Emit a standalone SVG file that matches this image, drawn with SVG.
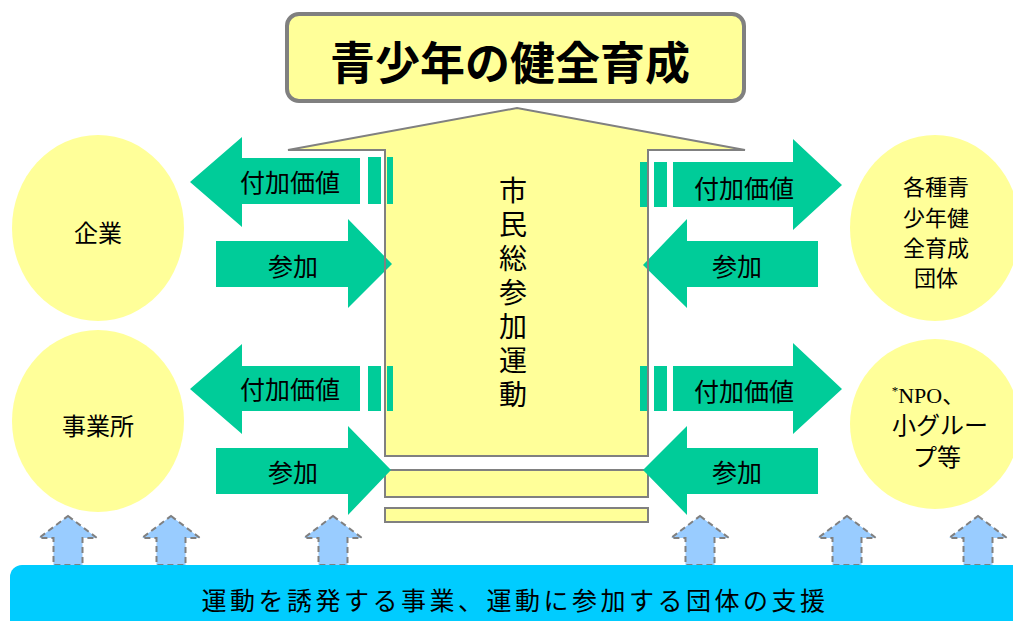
<svg xmlns="http://www.w3.org/2000/svg" width="1013" height="621" viewBox="0 0 1013 621">
<defs>
<style>
.jp{font-family:"Noto Sans CJK JP","Noto Sans CJK SC",sans-serif;fill:#000}
.circ{fill:#FFFF99}
.green{fill:#00CC99}
.yel{fill:#FFFF99;stroke:#808080;stroke-width:2}
.up{fill:#99CCFF;stroke:#808080;stroke-width:2;stroke-dasharray:6,4}
.lbl{font-size:25px;text-anchor:middle}
.node{font-size:24px;text-anchor:middle}
</style>
</defs>
<rect width="1013" height="621" fill="#fff"/>

<g id="title">
<rect x="287" y="14" width="457" height="87" rx="12" fill="#FFFF99" stroke="#808080" stroke-width="4"/>
<text class="jp" x="510" y="80" font-size="45" font-weight="bold" text-anchor="middle">青少年の健全育成</text>
</g>

<g id="main-arrow">
<polygon class="yel" points="288,150 517,108 745,150 648,150 648,456 385,456 385,150"/>
<rect class="yel" x="385" y="470" width="263" height="27"/>
<rect class="yel" x="385" y="508" width="263" height="14"/>
<text class="jp" x="513" y="176" font-size="28" writing-mode="vertical-rl" letter-spacing="6">市民総参加運動</text>
</g>

<g id="connectors">
<g id="ul">
<path class="green" d="M190,182 L242,137 L242,158 L360,158 L360,204 L242,204 L242,227 Z"/>
<rect class="green" x="368" y="157" width="13" height="47"/>
<rect class="green" x="387" y="157" width="6" height="47"/>
<text class="jp lbl" x="290" y="192">付加価値</text>
<path class="green" d="M216,241 L348,241 L348,219 L392,264 L348,308 L348,287 L216,287 Z"/>
<text class="jp lbl" x="293" y="276">参加</text>
</g>
<g id="ur">
<path class="green" d="M673,162 L793,162 L793,139 L842,185 L793,230 L793,207 L673,207 Z"/>
<rect class="green" x="640" y="162" width="8" height="45"/>
<rect class="green" x="654" y="162" width="13" height="45"/>
<text class="jp lbl" x="744" y="198">付加価値</text>
<path class="green" d="M643,265 L687,219 L687,241 L818,241 L818,287 L687,287 L687,308 Z"/>
<text class="jp lbl" x="737" y="276">参加</text>
</g>
<g id="ll">
<path class="green" d="M190,389 L242,344 L242,366 L360,366 L360,411 L242,411 L242,434 Z"/>
<rect class="green" x="368" y="366" width="13" height="45"/>
<rect class="green" x="387" y="366" width="6" height="45"/>
<text class="jp lbl" x="290" y="399">付加価値</text>
<path class="green" d="M216,448 L348,448 L348,426 L391,470 L348,515 L348,494 L216,494 Z"/>
<text class="jp lbl" x="293" y="482">参加</text>
</g>
<g id="lr">
<path class="green" d="M673,366 L793,366 L793,343 L842,389 L793,434 L793,411 L673,411 Z"/>
<rect class="green" x="640" y="366" width="8" height="45"/>
<rect class="green" x="654" y="366" width="13" height="45"/>
<text class="jp lbl" x="744" y="401">付加価値</text>
<path class="green" d="M643,470 L687,426 L687,448 L818,448 L818,494 L687,494 L687,515 Z"/>
<text class="jp lbl" x="737" y="482">参加</text>
</g>
<line x1="385" y1="150" x2="385" y2="456" stroke="#808080" stroke-width="2"/>
<line x1="648" y1="150" x2="648" y2="456" stroke="#808080" stroke-width="2"/>
<g id="up-arrows">
<path class="up" d="M68,516 L97,538 L82.5,538 L82.5,565 L53.5,565 L53.5,538 L39,538 Z"/>
<path class="up" d="M171,516 L200,538 L185.5,538 L185.5,565 L156.5,565 L156.5,538 L142,538 Z"/>
<path class="up" d="M333,516 L362,538 L347.5,538 L347.5,565 L318.5,565 L318.5,538 L304,538 Z"/>
<path class="up" d="M700,516 L729,538 L714.5,538 L714.5,565 L685.5,565 L685.5,538 L671,538 Z"/>
<path class="up" d="M847,516 L876,538 L861.5,538 L861.5,565 L832.5,565 L832.5,538 L818,538 Z"/>
<path class="up" d="M978,516 L1007,538 L992.5,538 L992.5,565 L963.5,565 L963.5,538 L949,538 Z"/>
</g>
</g>

<g id="kigyo">
<ellipse class="circ" cx="98" cy="228" rx="86" ry="93"/>
<text class="jp node" x="98" y="242">企業</text>
</g>
<g id="jigyosho">
<ellipse class="circ" cx="98" cy="421" rx="86" ry="91"/>
<text class="jp node" x="98" y="435">事業所</text>
</g>
<g id="dantai">
<ellipse class="circ" cx="935" cy="228" rx="85" ry="93"/>
<text class="jp" font-size="22" text-anchor="middle"><tspan x="936" y="195">各種青</tspan><tspan x="936" y="225.5">少年健</tspan><tspan x="936" y="256">全育成</tspan><tspan x="936" y="286">団体</tspan></text>
</g>
<g id="npo">
<ellipse class="circ" cx="935" cy="424" rx="85" ry="85"/>
<text x="928" y="403" text-anchor="middle" font-family="Liberation Serif,serif" font-size="22"><tspan font-size="13" dy="-8">*</tspan><tspan dy="8">NPO</tspan><tspan font-family="Noto Sans CJK JP,sans-serif">、</tspan></text>
<text class="jp" x="940" y="434" font-size="24" text-anchor="middle">小グルー</text>
<text class="jp" x="937" y="466" font-size="24" text-anchor="middle">プ等</text>
</g>

<g id="support">
<rect x="10" y="565" width="1020" height="70" rx="12" fill="#00CCFF"/>
<text class="jp" x="515" y="610" font-size="25" letter-spacing="3.5" text-anchor="middle">運動を誘発する事業、運動に参加する団体の支援</text>
</g>
</svg>
